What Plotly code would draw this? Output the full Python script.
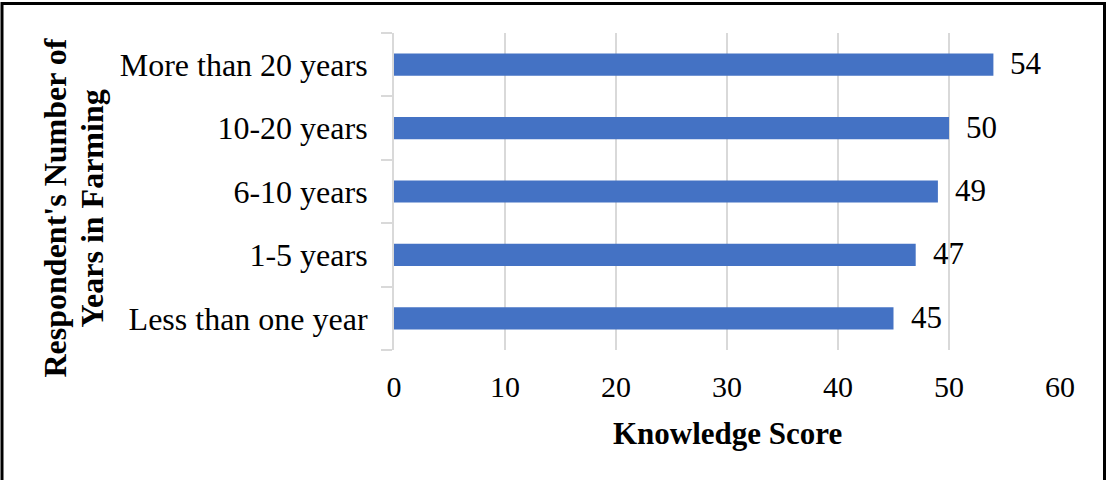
import plotly.graph_objects as go

categories = ["Less than one year", "1-5 years", "6-10 years", "10-20 years", "More than 20 years"]
scores = [45, 47, 49, 50, 54]
x_ticks = [0, 10, 20, 30, 40, 50, 60]
x_title = "Knowledge Score"
y_title_lines = ["Respondent's Number of", "Years in Farming"]

W, H = 1107, 480
ML, MR, MT, MB = 394, 47, 33, 130
PW, PH = W - ML - MR, H - MT - MB

FONT = "Liberation Serif, Times New Roman, serif"
BLUE = "#4472C4"
GRID = "#d9d9d9"

fig = go.Figure()
fig.add_trace(go.Bar(
    x=scores, y=categories, orientation="h",
    marker=dict(color=BLUE, line=dict(width=0)),
    width=0.35, hoverinfo="skip",
))

for c, v in zip(categories, scores):
    fig.add_annotation(x=v, y=c, text=str(v), showarrow=False,
                       xanchor="left", yanchor="middle", xshift=15, yshift=1,
                       font=dict(family=FONT, size=31, color="#000"))

# x-axis title
fig.add_annotation(x=0.5, y=0, xref="paper", yref="paper", text="<b>%s</b>" % x_title,
                   showarrow=False, xanchor="center", yanchor="middle", yshift=-83,
                   font=dict(family=FONT, size=31, color="#000"))
# y-axis title (two lines)
for i, (line, cx) in enumerate(zip(y_title_lines, [54, 91])):
    fig.add_annotation(x=0, y=0.5, xref="paper", yref="paper", text="<b>%s</b>" % line,
                       showarrow=False, textangle=-90, xanchor="center", yanchor="middle",
                       xshift=cx - ML, yshift=-17,
                       font=dict(family=FONT, size=32, color="#000"))

# outer border
def px(xp):
    return (xp - ML) / PW
def py(yp):
    return (H - MB - yp) / PH
fig.add_shape(type="rect", xref="paper", yref="paper",
              x0=px(2), x1=px(1104.5), y0=py(3.5), y1=py(490),
              line=dict(color="#000", width=3), fillcolor="rgba(0,0,0,0)")

fig.update_layout(
    width=W, height=H,
    margin=dict(l=ML, r=MR, t=MT, b=MB, pad=0),
    paper_bgcolor="white", plot_bgcolor="white",
    showlegend=False, bargap=0.65,
    font=dict(family=FONT, color="#000"),
)
fig.update_xaxes(range=[0, 60], tickvals=x_ticks, ticks="",
                 showgrid=True, gridcolor=GRID, gridwidth=2,
                 zeroline=False, showline=False,
                 tickfont=dict(family=FONT, size=30, color="#000"),
                 ticklabelstandoff=16, fixedrange=True)
fig.update_yaxes(categoryorder="array", categoryarray=categories,
                 showline=True, linecolor=GRID, linewidth=2,
                 ticks="outside", tickson="boundaries", ticklen=11, tickcolor=GRID, tickwidth=2,
                 showgrid=False, zeroline=False,
                 tickfont=dict(family=FONT, size=32, color="#000"),
                 ticklabelstandoff=18, fixedrange=True)

fig.write_html("out.html", config=dict(displayModeBar=False),
               post_script="document.body.style.margin='0';document.body.style.overflow='hidden';")
